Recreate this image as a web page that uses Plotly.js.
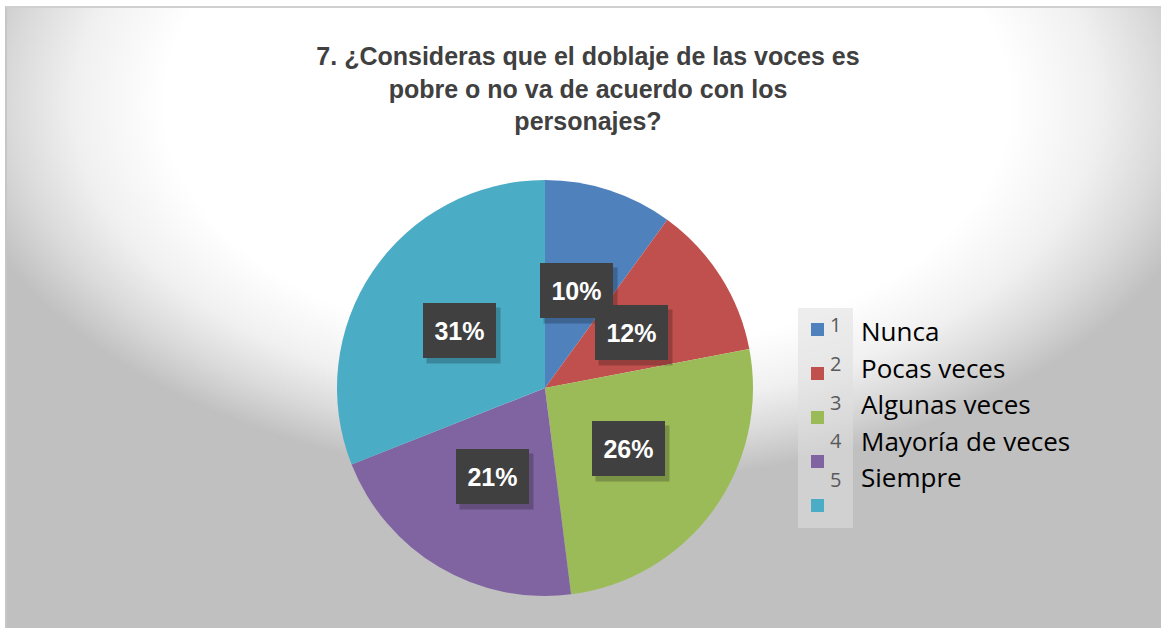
<!DOCTYPE html>
<html>
<head>
<meta charset="utf-8">
<script src="https://cdn.plot.ly/plotly-3.0.1.min.js"></script>
<style>
  html, body { margin: 0; padding: 0; background: #ffffff; }
  #frame {
    position: absolute; left: 5px; top: 6px; width: 1156px; height: 622px;
    box-sizing: border-box; border-left: 2px solid #c6c6c6; border-top: 2px solid #d0d0d0;
    background: radial-gradient(ellipse 640px 380px at 580px 95px, #ffffff 0%, #ffffff 66%, #f0f0f0 80%, #dadada 90%, #c0c0c0 100%);
    background-color: #c0c0c0;
  }
  #chart { position: absolute; left: 0; top: 0; width: 1161px; height: 628px; }
</style>
</head>
<body>
<div id="frame"></div>
<div id="chart"></div>
<script>
// ---- data ----
const categories = ["Nunca", "Pocas veces", "Algunas veces", "Mayoría de veces", "Siempre"];
const codes = ["1", "2", "3", "4", "5"];
const values = [10, 12, 26, 21, 31];
const colors = ["#4F81BD", "#C0504D", "#9BBB59", "#8064A2", "#4BACC6"];
const titleLines = ["7. ¿Consideras que el doblaje de las voces es", "pobre o no va de acuerdo con los", "personajes?"];

// ---- layout geometry ----
const W = 1161, H = 628;
const cxPx = 545, cyPx = 388, rPx = 208;
const dom = {
  x: [(cxPx - rPx) / W, (cxPx + rPx) / W],
  y: [(H - cyPx - rPx) / H, (H - cyPx + rPx) / H]
};

const total = values.reduce((a, b) => a + b, 0);
const annotations = [];
const shapes = [];

// data labels (dark boxes) computed from slice mid-angles
let cum = 0;
values.forEach((v, i) => {
  const mid = (cum + v / 2) / total * 2 * Math.PI; // clockwise from 12 o'clock
  cum += v;
  const lx = cxPx + rPx * 0.495 * Math.sin(mid);
  const ly = cyPx - rPx * 0.495 * Math.cos(mid);
  const txt = Math.round(v / total * 100) + "%";
  annotations.push({
    xref: "paper", yref: "paper", x: (lx + 4) / W, y: (H - ly - 5) / H,
    text: " ", showarrow: false, width: 71, height: 53,
    bgcolor: "rgba(0,0,0,0.22)", xanchor: "center", yanchor: "middle"
  });
  annotations.push({
    xref: "paper", yref: "paper", x: lx / W, y: (H - ly) / H,
    text: "<b>" + txt + "</b>", showarrow: false, width: 71, height: 53,
    bgcolor: "#404040", borderwidth: 0,
    font: { family: "Liberation Sans, Arial, sans-serif", size: 25, color: "#ffffff" },
    xanchor: "center", yanchor: "middle"
  });
});

// custom legend (box, squares, codes, labels)
shapes.push({
  type: "rect", xref: "paper", yref: "paper",
  x0: 798 / W, x1: 853 / W, y0: (H - 528) / H, y1: (H - 308) / H,
  fillcolor: "rgba(222,222,222,0.55)", line: { width: 0 }, layer: "below"
});
categories.forEach((c, i) => {
  const sqY = 329.5 + i * 44;
  shapes.push({
    type: "rect", xref: "paper", yref: "paper",
    x0: 811 / W, x1: 824 / W, y0: (H - sqY - 6.5) / H, y1: (H - sqY + 6.5) / H,
    fillcolor: colors[i], line: { width: 0 }
  });
  annotations.push({
    xref: "paper", yref: "paper", x: 828 / W, y: (H - (325 + i * 38.5)) / H,
    text: codes[i], showarrow: false, xanchor: "left", yanchor: "middle",
    font: { family: "Open Sans, Liberation Sans, sans-serif", size: 20, color: "#595959" }
  });
  annotations.push({
    xref: "paper", yref: "paper", x: 859 / W, y: (H - (331 + i * 36.6)) / H,
    text: c, showarrow: false, xanchor: "left", yanchor: "middle",
    font: { family: "Open Sans, Liberation Sans, sans-serif", size: 26, color: "#000000" }
  });
});

const trace = {
  type: "pie",
  labels: categories,
  values: values,
  sort: false,
  direction: "clockwise",
  rotation: 0,
  marker: { colors: colors, line: { width: 0 } },
  textinfo: "none",
  hoverinfo: "label+percent",
  domain: dom,
  showlegend: false
};

const layout = {
  width: W, height: H,
  margin: { l: 0, r: 0, t: 0, b: 0 },
  paper_bgcolor: "rgba(0,0,0,0)",
  plot_bgcolor: "rgba(0,0,0,0)",
  showlegend: false,
  title: {
    text: "<b>" + titleLines.join("<br>") + "</b>",
    x: 588 / W, xanchor: "center",
    y: 1 - 65 / H, yanchor: "middle",
    font: { family: "Liberation Sans, Arial, sans-serif", size: 25, color: "#404040" }
  },
  annotations: annotations,
  shapes: shapes
};

Plotly.newPlot("chart", [trace], layout, { displayModeBar: false, staticPlot: true });
</script>
</body>
</html>
